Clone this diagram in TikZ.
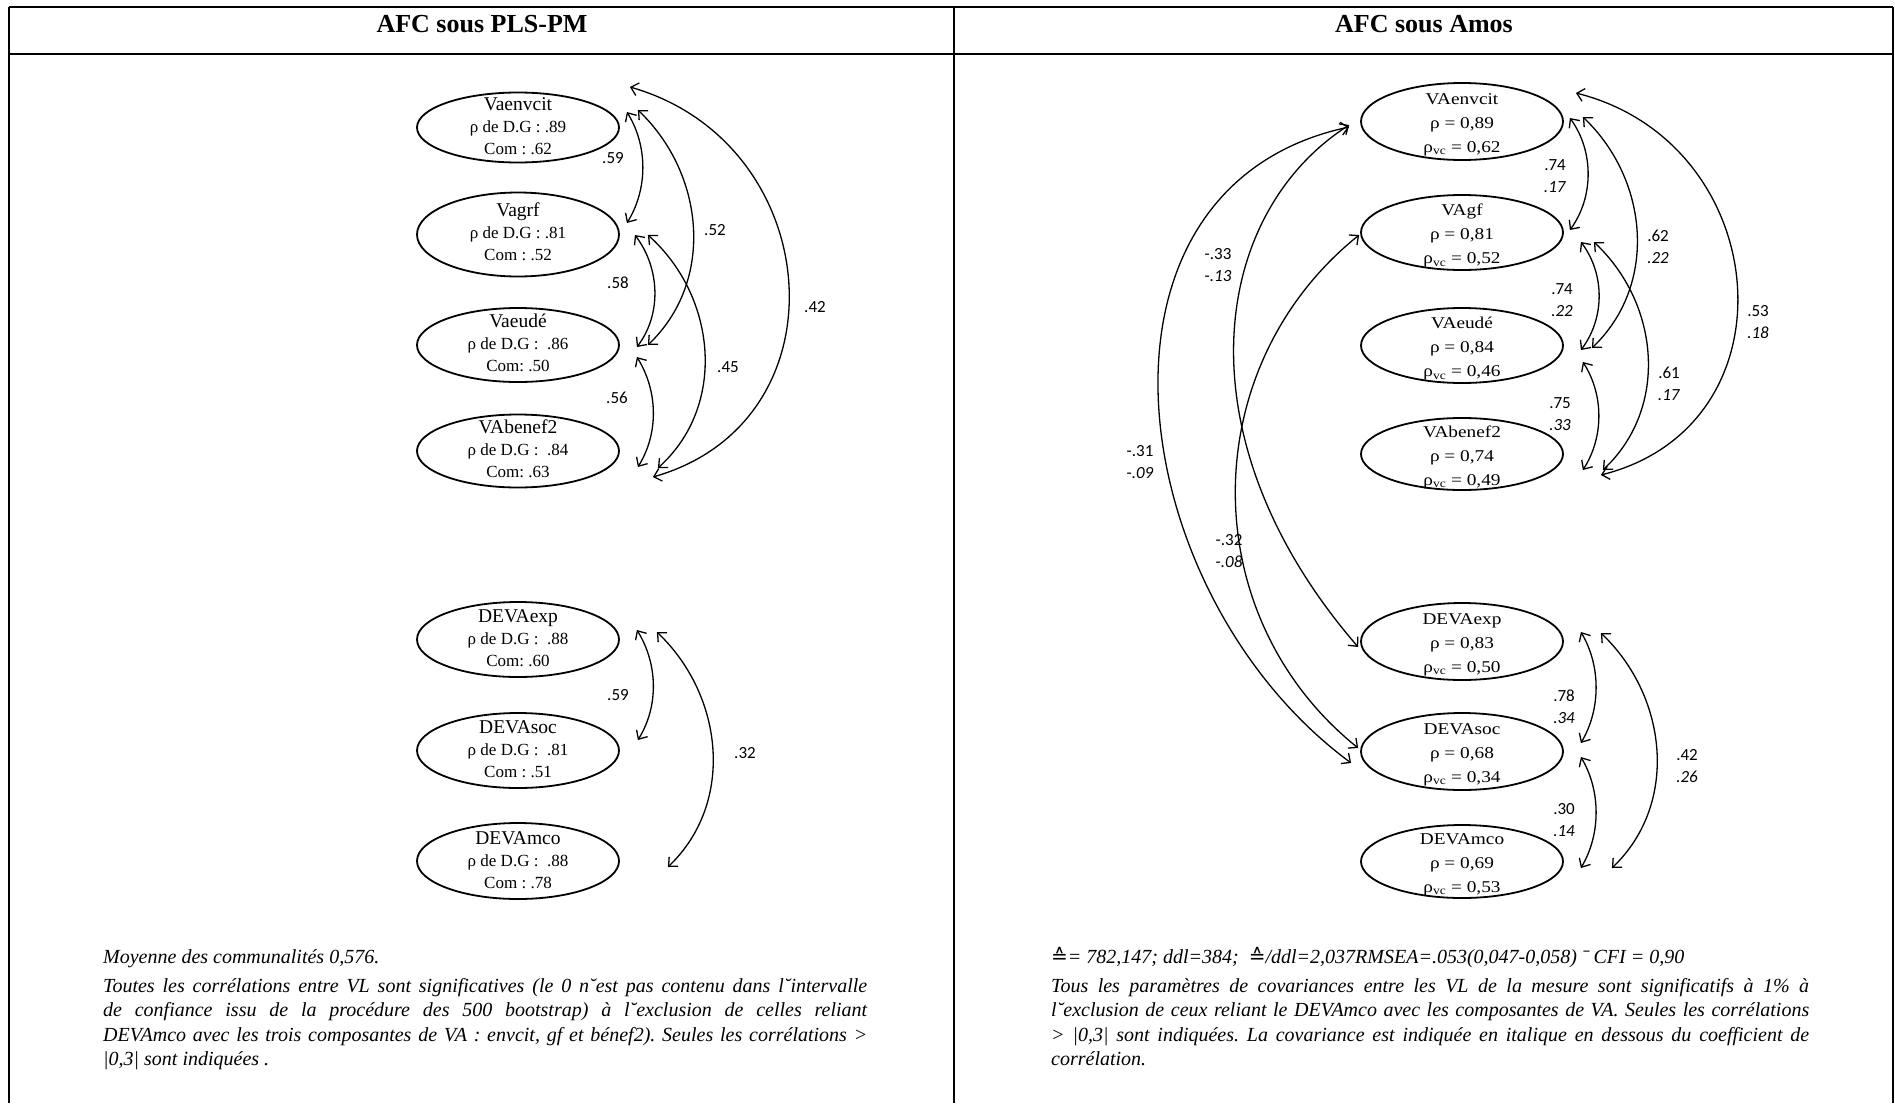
\documentclass[tikz,border=0pt]{standalone}
\usepackage{fontspec}
\setmainfont{Liberation Serif}
\newfontfamily\labfont{Carlito}
\newfontfamily\wideserif[FakeStretch=1.17]{Liberation Serif}
\newfontfamily\symfontA{DejaVu Sans}
\usetikzlibrary{shapes.geometric,arrows.meta}
\frenchspacing
\tikzset{
  frame/.style={line width=2pt},
  lv/.style={draw, ellipse, line width=1.8pt, minimum width=202pt, inner sep=0pt},
  ltxt/.style={align=center, inner sep=0pt, font=\fontsize{17}{22}\selectfont},
  rtxt/.style={align=center, inner sep=0pt, font=\wideserif\fontsize{16.5}{24}\selectfont},
  conn/.style={line width=1.3pt, {Straight Barb[length=7pt,width=13pt]}-{Straight Barb[length=7pt,width=13pt]}},
  lab/.style={inner sep=0pt, align=center, font=\labfont\fontsize{17}{21.5}\selectfont},
  hdr/.style={font=\bfseries\fontsize{26}{30}\selectfont, inner sep=0pt, anchor=base},
  capline/.style={inner sep=0pt, anchor=base west, font=\itshape\fontsize{20}{24.5}\selectfont},
  captext/.style={inner sep=0pt, anchor=north west, align=justify, font=\itshape\fontsize{20}{24.5}\selectfont}
}
\newcommand{\ttl}[1]{{\fontsize{19.5}{22}\selectfont #1}}
\begin{document}
\begin{tikzpicture}[x=1pt,y=-1pt]
\useasboundingbox (0,0) rectangle (1895,1103);
\fill[white] (0,0) rectangle (1895,1103);
% frame
\draw[frame] (9,7) -- (1893,7);
\draw[frame] (9,54) -- (1893,54);
\draw[frame] (9,7) -- (9,1103);
\draw[frame] (954,7) -- (954,1103);
\draw[frame] (1893,7) -- (1893,1103);
\node[hdr] (hL) at (482,32) {AFC sous PLS-PM};
\node[hdr] (hR) at (1424,32) {AFC sous Amos};

% left ellipses
\node[lv, minimum height=70pt] (L1) at (518,127.5) {};
\node[lv, minimum height=84pt] (L2) at (518,234.5) {};
\node[lv, minimum height=74pt] (L3) at (518,345) {};
\node[lv, minimum height=73pt] (L4) at (518,451) {};
\node[lv, minimum height=75pt] (L5) at (518,639.5) {};
\node[lv, minimum height=75pt] (L6) at (518,750.5) {};
\node[lv, minimum height=76pt] (L7) at (518,861) {};
\node[ltxt] (L1t) at ([yshift=1]L1.center) {\ttl{Vaenvcit}\\ρ de D.G : .89\\Com : .62};
\node[ltxt] (L2t) at ([yshift=3]L2.center) {\ttl{Vagrf}\\ρ de D.G : .81\\Com : .52};
\node[ltxt] (L3t) at ([yshift=2]L3.center) {\ttl{Vaeudé}\\ρ de D.G :\ \ .86\\Com: .50};
\node[ltxt] (L4t) at ([yshift=2]L4.center) {\ttl{VAbenef2}\\ρ de D.G :\ \ .84\\Com: .63};
\node[ltxt] (L5t) at ([yshift=1]L5.center) {\ttl{DEVAexp}\\ρ de D.G :\ \ .88\\Com: .60};
\node[ltxt] (L6t) at ([yshift=1]L6.center) {\ttl{DEVAsoc}\\ρ de D.G :\ \ .81\\Com : .51};
\node[ltxt] (L7t) at ([yshift=1]L7.center) {\ttl{DEVAmco}\\ρ de D.G :\ \ .88\\Com : .78};

% right ellipses
\node[lv, minimum height=77pt] (R1) at (1462,121.5) {};
\node[lv, minimum height=75pt] (R2) at (1462,232.5) {};
\node[lv, minimum height=75pt] (R3) at (1462,345.5) {};
\node[lv, minimum height=72pt] (R4) at (1462,454) {};
\node[lv, minimum height=77pt] (R5) at (1462,641.5) {};
\node[lv, minimum height=77pt] (R6) at (1462,751.5) {};
\node[lv, minimum height=73pt] (R7) at (1462,861.5) {};
\node[rtxt] (R1t) at ([yshift=-3]R1.center) {VAenvcit\\ρ = 0,89\\ρ\textsubscript{vc} = 0,62};
\node[rtxt] (R2t) at ([yshift=-3]R2.center) {VAgf\\ρ = 0,81\\ρ\textsubscript{vc} = 0,52};
\node[rtxt] (R3t) at ([yshift=-3]R3.center) {VAeudé\\ρ = 0,84\\ρ\textsubscript{vc} = 0,46};
\node[rtxt] (R4t) at ([yshift=-3]R4.center) {VAbenef2\\ρ = 0,74\\ρ\textsubscript{vc} = 0,49};
\node[rtxt] (R5t) at ([yshift=-3]R5.center) {DEVAexp\\ρ = 0,83\\ρ\textsubscript{vc} = 0,50};
\node[rtxt] (R6t) at ([yshift=-3]R6.center) {DEVAsoc\\ρ = 0,68\\ρ\textsubscript{vc} = 0,34};
\node[rtxt] (R7t) at ([yshift=-3]R7.center) {DEVAmco\\ρ = 0,69\\ρ\textsubscript{vc} = 0,53};

% left connectors
\coordinate (p1a) at ([shift={(7,-15.5)}]L1.east);
\coordinate (p1b) at ([shift={(7,-11.5)}]L2.east);
\draw[conn] (p1a) .. controls ([shift={(21,34)}]p1a) and ([shift={(21,-34)}]p1b) .. (p1b);
\coordinate (p2a) at ([shift={(18,-17.5)}]L1.east);
\coordinate (p2b) at ([shift={(28,0)}]L3.east);
\draw[conn] (p2a) .. controls ([shift={(67,64)}]p2a) and ([shift={(67,-64)}]p2b) .. (p2b);
\coordinate (p3a) at ([shift={(10,-40.5)}]L1.east);
\coordinate (p3b) at ([shift={(33,26)}]L4.east);
\draw[conn] (p3a) .. controls ([shift={(196,56)}]p3a) and ([shift={(196,-56)}]p3b) .. (p3b);
\coordinate (p4a) at ([shift={(15,0.5)}]L2.east);
\coordinate (p4b) at ([shift={(17,2)}]L3.east);
\draw[conn] (p4a) .. controls ([shift={(25,33)}]p4a) and ([shift={(25,-33)}]p4b) .. (p4b);
\coordinate (p5a) at ([shift={(28,0.5)}]L2.east);
\coordinate (p5b) at ([shift={(38,17)}]L4.east);
\draw[conn] (p5a) .. controls ([shift={(69,62)}]p5a) and ([shift={(69,-62)}]p5b) .. (p5b);
\coordinate (p6a) at ([shift={(17,12)}]L3.east);
\coordinate (p6b) at ([shift={(18,16)}]L4.east);
\draw[conn] (p6a) .. controls ([shift={(21,34)}]p6a) and ([shift={(21,-34)}]p6b) .. (p6b);
\coordinate (p7a) at ([shift={(17,-9.5)}]L5.east);
\coordinate (p7b) at ([shift={(18,-10.5)}]L6.east);
\draw[conn] (p7a) .. controls ([shift={(21,34)}]p7a) and ([shift={(21,-34)}]p7b) .. (p7b);
\coordinate (p8a) at ([shift={(37,-7.5)}]L5.east);
\coordinate (p8b) at ([shift={(48,6)}]L7.east);
\draw[conn] (p8a) .. controls ([shift={(67,64)}]p8a) and ([shift={(67,-64)}]p8b) .. (p8b);

% left labels
\node[lab] (n1) at (613,158) {.59};
\node[lab] (n2) at (715,230) {.52};
\node[lab] (n3) at (815,307) {.42};
\node[lab] (n4) at (618,283) {.58};
\node[lab] (n5) at (728,367) {.45};
\node[lab] (n6) at (617,398) {.56};
\node[lab] (n7) at (618,695) {.59};
\node[lab] (n8) at (745,753) {.32};

% right connectors (right side)
\coordinate (qa1) at ([shift={(6,-3.5)}]R1.east);
\coordinate (qa2) at ([shift={(6,-2.5)}]R2.east);
\draw[conn] (qa1) .. controls ([shift={(24,33)}]qa1) and ([shift={(24,-33)}]qa2) .. (qa2);
\coordinate (qb1) at ([shift={(19,-4.5)}]R1.east);
\coordinate (qb2) at ([shift={(28,2.5)}]R3.east);
\draw[conn] (qb1) .. controls ([shift={(66,63)}]qb1) and ([shift={(66,-63)}]qb2) .. (qb2);
\coordinate (qc1) at ([shift={(12,-28.5)}]R1.east);
\coordinate (qc2) at ([shift={(37,21)}]R4.east);
\draw[conn] (qc1) .. controls ([shift={(198,50)}]qc1) and ([shift={(198,-50)}]qc2) .. (qc2);
\coordinate (qd1) at ([shift={(17,9.5)}]R2.east);
\coordinate (qd2) at ([shift={(17,4.5)}]R3.east);
\draw[conn] (qd1) .. controls ([shift={(24,32)}]qd1) and ([shift={(24,-32)}]qd2) .. (qd2);
\coordinate (qe1) at ([shift={(30,9.5)}]R2.east);
\coordinate (qe2) at ([shift={(39,16)}]R4.east);
\draw[conn] (qe1) .. controls ([shift={(66,62)}]qe1) and ([shift={(66,-62)}]qe2) .. (qe2);
\coordinate (qf1) at ([shift={(19,16.5)}]R3.east);
\coordinate (qf2) at ([shift={(19,16)}]R4.east);
\draw[conn] (qf1) .. controls ([shift={(21,33)}]qf1) and ([shift={(21,-33)}]qf2) .. (qf2);
\coordinate (qj1) at ([shift={(17,-9.5)}]R5.east);
\coordinate (qj2) at ([shift={(17,-8.5)}]R6.east);
\draw[conn] (qj1) .. controls ([shift={(20,34)}]qj1) and ([shift={(20,-34)}]qj2) .. (qj2);
\coordinate (qk1) at ([shift={(37,-8.5)}]R5.east);
\coordinate (qk2) at ([shift={(48,6.5)}]R7.east);
\draw[conn] (qk1) .. controls ([shift={(67,64)}]qk1) and ([shift={(67,-64)}]qk2) .. (qk2);
\coordinate (ql1) at ([shift={(17,5.5)}]R6.east);
\coordinate (ql2) at ([shift={(17,6.5)}]R7.east);
\draw[conn] (ql1) .. controls ([shift={(20,34)}]ql1) and ([shift={(20,-34)}]ql2) .. (ql2);
% right connectors (left side)
\coordinate (qg1) at ([shift={(-11,3.5)}]R1.west);
\coordinate (qg2) at ([shift={(-2,5.5)}]R5.west);
\draw[conn] (qg1) .. controls ([shift={(-140,90)}]qg1) and ([shift={(-179,-207)}]qg2) .. (qg2);
\coordinate (qh1) at ([shift={(-11,5.5)}]R1.west);
\coordinate (qh2) at ([shift={(-9,11.5)}]R6.west);
\draw[conn] (qh1) .. controls ([shift={(-280,60)}]qh1) and ([shift={(-230,-170)}]qh2) .. (qh2);
\coordinate (qi1) at ([shift={(-1,2.5)}]R2.west);
\coordinate (qi2) at ([shift={(-2,-3.5)}]R6.west);
\draw[conn] (qi1) .. controls ([shift={(-164,132)}]qi1) and ([shift={(-164,-132)}]qi2) .. (qi2);

% right labels
\node[lab] (m1) at (1555,176) {.74\\\textit{.17}};
\node[lab] (m2) at (1658,247) {.62\\\textit{.22}};
\node[lab] (m3) at (1758,322) {.53\\\textit{.18}};
\node[lab] (m4) at (1562,300) {.74\\\textit{.22}};
\node[lab] (m5) at (1669,384) {.61\\\textit{.17}};
\node[lab] (m6) at (1560,414) {.75\\\textit{.33}};
\node[lab] (m7) at (1218,265) {-.33\\-\textit{.13}};
\node[lab] (m8) at (1140,462) {-.31\\-\textit{.09}};
\node[lab] (m9) at (1229,551) {-.32\\-\textit{.08}};
\node[lab] (m10) at (1564,707) {.78\\\textit{.34}};
\node[lab] (m11) at (1687,766) {.42\\\textit{.26}};
\node[lab] (m12) at (1564,820) {.30\\\textit{.14}};

% captions
\node[capline] (cL1) at (103,963) {Moyenne des communalités 0,576.};
\node[captext, text width=764pt] (cL2) at (103,978) {\hyphenpenalty=10000 Toutes les corrélations entre VL sont significatives (le 0 n˘est pas contenu dans l˘intervalle\linebreak de confiance issu de la procédure des 500 bootstrap) à l˘exclusion de celles reliant\linebreak DEVAmco avec les trois composantes de VA : envcit, gf et bénef2). Seules les corrélations >\linebreak |0,3| sont indiquées .};
\node[capline] (cR1) at (1051,963) {{\symfontA\upshape ≙}= 782,147; ddl=384; \ {\symfontA\upshape ≙}/ddl=2,037RMSEA=.053(0,047-0,058) ˉ CFI = 0,90};
\node[captext, text width=758pt] (cR2) at (1051,978) {\hyphenpenalty=10000 Tous les paramètres de covariances entre les VL de la mesure sont significatifs à 1\% à\linebreak l˘exclusion de ceux reliant le DEVAmco avec les composantes de VA. Seules les corrélations\linebreak > |0,3| sont indiquées. La covariance est indiquée en italique en dessous du coefficient de\linebreak corrélation.};
\end{tikzpicture}
\end{document}
